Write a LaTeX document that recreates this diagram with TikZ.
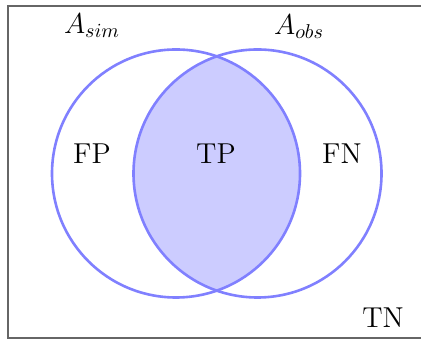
\documentclass[tikz,border=0pt]{standalone}
\begin{document}
\begin{tikzpicture}[x=0.5pt,y=0.5pt,
  setline/.style={draw=blue!50, line width=1.3pt},
  lbl/.style={font=\fontsize{14.4}{17}\selectfont, inner sep=0pt}]
\useasboundingbox (0,0) rectangle (421,340);
\begin{scope}
\clip (0,0) rectangle (421,340);
\draw[gray!80!black, line width=1pt] (8,2) rectangle (430,334);
\end{scope}
\coordinate (cl) at (176,166.5);
\coordinate (cr) at (257.5,166.5);
\begin{scope}
\clip (cl) circle (124);
\fill[blue!20] (cr) circle (124);
\end{scope}
\draw[setline] (cl) circle (124);
\draw[setline] (cr) circle (124);
\node[lbl] (asim) at (92,314) {$A_{sim}$};
\node[lbl] (aobs) at (299,313.5) {$A_{obs}$};
\node[lbl] (fp) at (92,186.5) {FP};
\node[lbl] (tp) at (216,186.5) {TP};
\node[lbl] (fn) at (342,186.5) {FN};
\node[lbl] (tn) at (383,22) {TN};
\end{tikzpicture}
\end{document}
